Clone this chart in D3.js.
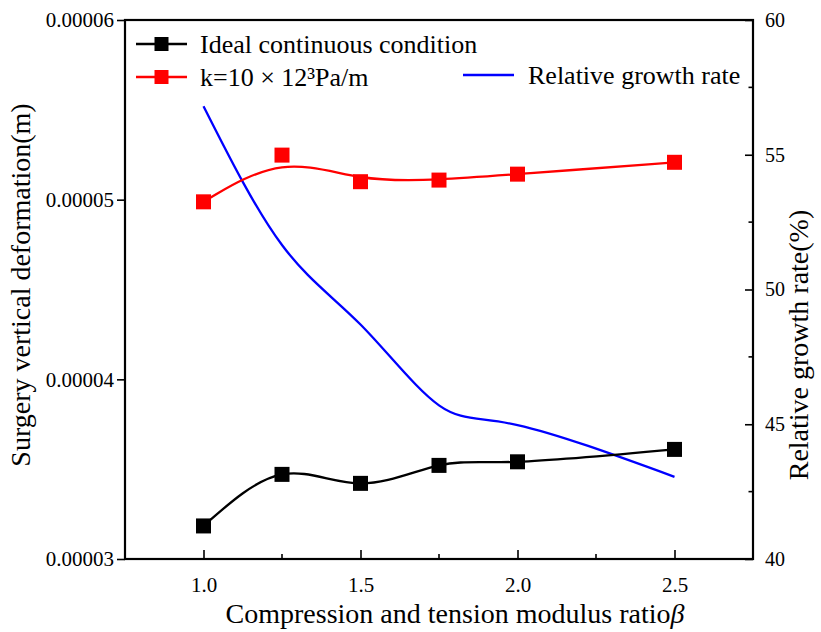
<!DOCTYPE html>
<html>
<head>
<meta charset="utf-8">
<script src="https://cdn.jsdelivr.net/npm/d3@7"></script>
<style>
  html, body { margin: 0; padding: 0; background: #fff; }
  svg text { font-family: "Liberation Serif", "Times New Roman", serif !important; fill: #000; }
</style>
</head>
<body>
<svg id="chart" width="821" height="632"></svg>
<script>
// Compression/tension modulus ratio β
const beta = [1.0, 1.25, 1.5, 1.75, 2.0, 2.5];
// Surface vertical deformation (m)
const idealDeformation = [3.184e-5, 3.471e-5, 3.421e-5, 3.521e-5, 3.541e-5, 3.610e-5];
const springDeformation = [4.988e-5, 5.248e-5, 5.100e-5, 5.109e-5, 5.142e-5, 5.208e-5];
// Relative growth rate (%)
const growthRate = [56.8, 51.65, 48.7, 45.7, 44.97, 43.05];

const xTickValues = [1.0, 1.5, 2.0, 2.5];
const xMinorTicks = [1.25, 1.75, 2.25];
const leftTickValues = [0.00003, 0.00004, 0.00005, 0.00006];
const leftTickLabels = ["0.00003", "0.00004", "0.00005", "0.00006"];
const rightTickValues = [40, 45, 50, 55, 60];
const rightMinorTicks = [42.5, 47.5, 52.5, 57.5];

const seriesNames = ["Ideal continuous condition", "k=10 \u00d7 12\u00b3Pa/m", "Relative growth rate"];

const SERIF = "'Liberation Serif', 'Times New Roman', serif";
const margin = { left: 125, right: 68, top: 20, bottom: 73 };
const W = 821, H = 632;
const svg = d3.select("#chart");

const x = d3.scaleLinear().domain([0.75, 2.75]).range([margin.left, W - margin.right]);
const yL = d3.scaleLinear().domain([0.00003, 0.00006]).range([H - margin.bottom, margin.top]);
const yR = d3.scaleLinear().domain([40, 60]).range([H - margin.bottom, margin.top]);

const x0 = margin.left, x1 = W - margin.right, y0 = H - margin.bottom, y1 = margin.top;

// Curves
const black = beta.map((b, i) => [b, idealDeformation[i]]);
const red = beta.map((b, i) => [b, springDeformation[i]]);
const blue = beta.map((b, i) => [b, growthRate[i]]);

svg.append("path")
  .datum(blue)
  .attr("fill", "none").attr("stroke", "#0000ff").attr("stroke-width", 2.3)
  .attr("d", d3.line().x(d => x(d[0])).y(d => yR(d[1])).curve(d3.curveNatural));

svg.append("path")
  .datum(red)
  .attr("fill", "none").attr("stroke", "#ff0000").attr("stroke-width", 2.3)
  .attr("d", d3.line().x(d => x(d[0])).y(d => yL(d[1])).curve(d3.curveBasis));

svg.append("path")
  .datum(black)
  .attr("fill", "none").attr("stroke", "#000").attr("stroke-width", 2.3)
  .attr("d", d3.line().x(d => x(d[0])).y(d => yL(d[1])).curve(d3.curveNatural));

const ms = 15;
svg.selectAll("rect.red").data(red).enter().append("rect")
  .attr("x", d => x(d[0]) - ms / 2).attr("y", d => yL(d[1]) - ms / 2)
  .attr("width", ms).attr("height", ms).attr("fill", "#ff0000");
svg.selectAll("rect.blk").data(black).enter().append("rect")
  .attr("x", d => x(d[0]) - ms / 2).attr("y", d => yL(d[1]) - ms / 2)
  .attr("width", ms).attr("height", ms).attr("fill", "#000");

// Axes
const axisG = svg.append("g");

// bottom axis with inward ticks
const bottom = axisG.append("g").attr("transform", `translate(0,${y0})`)
  .call(d3.axisBottom(x).tickValues(xTickValues).tickSizeInner(-9).tickSizeOuter(0)
    .tickFormat(d3.format(".1f")).tickPadding(18));
bottom.attr("font-family", null);
bottom.select(".domain").remove();
bottom.selectAll(".tick line").attr("stroke", "#000").attr("stroke-width", 1.6);
bottom.selectAll(".tick text").style("font-size", "21px").style("font-family", SERIF);
bottom.selectAll(".minor").data(xMinorTicks).enter().append("line")
  .attr("x1", d => x(d)).attr("x2", d => x(d)).attr("y1", 0).attr("y2", -5)
  .attr("stroke", "#000").attr("stroke-width", 1.6);

// left axis, outward ticks
const left = axisG.append("g").attr("transform", `translate(${x0},0)`)
  .call(d3.axisLeft(yL).tickValues(leftTickValues).tickSizeInner(8).tickSizeOuter(0)
    .tickFormat((d, i) => leftTickLabels[i]).tickPadding(3));
left.attr("font-family", null);
left.select(".domain").remove();
left.selectAll(".tick line").attr("stroke", "#000").attr("stroke-width", 1.6);
left.selectAll(".tick text").style("font-size", "21px").style("font-family", SERIF);

// right axis, inward ticks
const right = axisG.append("g").attr("transform", `translate(${x1},0)`)
  .call(d3.axisRight(yR).tickValues(rightTickValues).tickSizeInner(-8).tickSizeOuter(0)
    .tickPadding(12));
right.attr("font-family", null);
right.select(".domain").remove();
right.selectAll(".tick line").attr("stroke", "#000").attr("stroke-width", 1.6);
right.selectAll(".tick text").style("font-size", "20px").style("font-family", SERIF);
right.selectAll(".minor").data(rightMinorTicks).enter().append("line")
  .attr("x1", 0).attr("x2", -4.5).attr("y1", d => yR(d)).attr("y2", d => yR(d))
  .attr("stroke", "#000").attr("stroke-width", 1.6);

// frame
svg.append("rect").attr("x", x0).attr("y", y1).attr("width", x1 - x0).attr("height", y0 - y1)
  .attr("fill", "none").attr("stroke", "#000").attr("stroke-width", 2.2);

// titles
const xt = svg.append("text").attr("x", 455).attr("y", 623)
  .attr("text-anchor", "middle").style("font-size", "28px");
xt.append("tspan").text("Compression and tension modulus ratio");
xt.append("tspan").attr("font-style", "italic").text("\u03b2");

svg.append("text")
  .attr("transform", "translate(30,285) rotate(-90)")
  .attr("text-anchor", "middle").style("font-size", "28px")
  .text("Surgery vertical deformation(m)");

svg.append("text")
  .attr("transform", "translate(808,345) rotate(-90)")
  .attr("text-anchor", "middle").style("font-size", "28px")
  .text("Relative growth rate(%)");

// legend
const legend = svg.append("g");
const legendItems = [
  { name: seriesNames[0], color: "#000", marker: true, lx: 136, ly: 44, tx: 200 },
  { name: seriesNames[1], color: "#ff0000", marker: true, lx: 136, ly: 77, tx: 200 },
  { name: seriesNames[2], color: "#0000ff", marker: false, lx: 463, ly: 75, tx: 528 }
];
legendItems.forEach(it => {
  legend.append("line").attr("x1", it.lx).attr("x2", it.lx + 51)
    .attr("y1", it.ly).attr("y2", it.ly).attr("stroke", it.color).attr("stroke-width", 2.3);
  if (it.marker) {
    legend.append("rect").attr("x", it.lx + 25.5 - 7).attr("y", it.ly - 7)
      .attr("width", 14).attr("height", 14).attr("fill", it.color);
  }
  legend.append("text").attr("x", it.tx).attr("y", it.ly + 9).style("font-size", "26px").text(it.name);
});
</script>
</body>
</html>
